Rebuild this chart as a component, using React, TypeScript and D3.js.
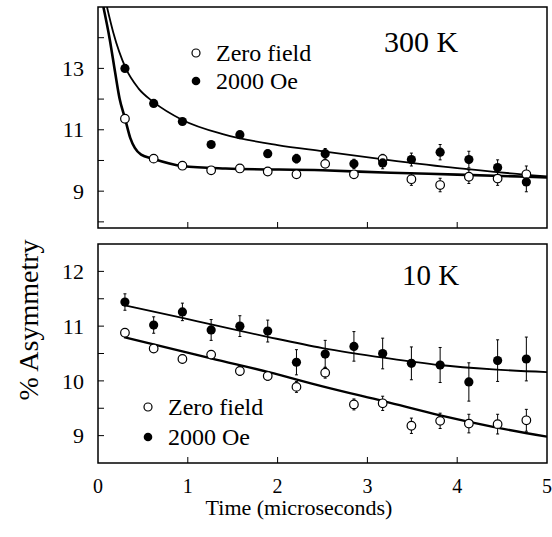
import React from "react";
import * as d3 from "d3";

const times = [0.30, 0.62, 0.94, 1.26, 1.58, 1.89, 2.21, 2.53, 2.85, 3.17, 3.49, 3.81, 4.13, 4.45, 4.77];

// 300 K panel
const hotField = [13.0, 11.86, 11.27, 10.52, 10.84, 10.22, 10.06, 10.22, 9.89, 9.92, 10.03, 10.27, 10.03, 9.77, 9.3];
const hotFieldErr = [0.06, 0.08, 0.08, 0.1, 0.1, 0.12, 0.14, 0.17, 0.15, 0.19, 0.21, 0.25, 0.27, 0.25, 0.32];
const hotZero = [11.36, 10.06, 9.83, 9.68, 9.74, 9.64, 9.55, 9.89, 9.55, 10.05, 9.39, 9.2, 9.47, 9.41, 9.55];
const hotZeroErr = [0.05, 0.06, 0.06, 0.07, 0.08, 0.08, 0.1, 0.12, 0.12, 0.15, 0.2, 0.22, 0.22, 0.22, 0.27];
const hotFieldFitT = [0.1, 0.17, 0.31, 0.45, 0.62, 0.94, 1.4, 2.0, 2.5, 3.2, 4.0, 5.0];
const hotFieldFitV = [15, 14.17, 13.0, 12.35, 11.9, 11.32, 10.85, 10.5, 10.3, 10.03, 9.75, 9.48];
const hotZeroFitT = [0.06, 0.13, 0.19, 0.24, 0.3, 0.36, 0.41, 0.48, 0.61, 0.94, 1.42, 2.5, 3.26, 4.0, 5.0];
const hotZeroFitV = [15, 13.96, 12.88, 12.02, 11.38, 10.73, 10.41, 10.19, 10.06, 9.82, 9.74, 9.68, 9.6, 9.54, 9.45];

// 10 K panel
const coldField = [11.44, 11.02, 11.26, 10.93, 11.0, 10.91, 10.34, 10.49, 10.63, 10.5, 10.32, 10.29, 9.98, 10.37, 10.4];
const coldFieldErr = [0.15, 0.15, 0.16, 0.19, 0.19, 0.2, 0.23, 0.25, 0.27, 0.28, 0.3, 0.32, 0.35, 0.38, 0.4];
const coldZero = [10.88, 10.59, 10.4, 10.48, 10.18, 10.09, 9.89, 10.15, 9.57, 9.59, 9.18, 9.27, 9.22, 9.21, 9.28];
const coldZeroErr = [0.05, 0.06, 0.07, 0.07, 0.08, 0.08, 0.1, 0.1, 0.1, 0.13, 0.14, 0.14, 0.17, 0.18, 0.2];
const coldFieldFitT = [0.29, 0.94, 1.26, 1.9, 2.5, 3.2, 3.8, 4.4, 5.0];
const coldFieldFitV = [11.38, 11.15, 11.03, 10.8, 10.6, 10.42, 10.29, 10.21, 10.16];
const coldZeroFitT = [0.29, 0.94, 1.26, 1.9, 2.5, 3.2, 3.81, 4.4, 5.0];
const coldZeroFitV = [10.8, 10.54, 10.41, 10.16, 9.9, 9.62, 9.37, 9.16, 8.98];

const xTicks = [0, 1, 2, 3, 4, 5];
const hotYTicks = [8, 9, 10, 11, 12, 13, 14];
const hotYLabels = [9, 11, 13];
const coldYTicks = [9, 9.5, 10, 10.5, 11, 11.5, 12];
const coldYLabels = [9, 10, 11, 12];

const legendLabels = ["Zero field", "2000 Oe"];
const FONT = "Liberation Serif, Tinos, DejaVu Serif, serif";
const serif = { fontFamily: FONT };

const X0 = 98, X1 = 547;
const x = d3.scaleLinear().domain([0, 5]).range([X0, X1]);

type PanelProps = {
  id: string;
  top: number;
  bottom: number;
  domain: [number, number];
  ticks: number[];
  labels: number[];
  field: number[];
  fieldErr: number[];
  zero: number[];
  zeroErr: number[];
  fFitT: number[];
  fFitV: number[];
  zFitT: number[];
  zFitV: number[];
  zWidth: number;
  fWidth: number;
};

function Panel(p: PanelProps) {
  const y = d3.scaleLinear().domain(p.domain).range([p.bottom, p.top]);
  const line = d3
    .line<[number, number]>()
    .x((d) => x(d[0]))
    .y((d) => y(d[1]))
    .curve(d3.curveMonotoneX);
  const fPath = line(p.fFitT.map((t, i) => [t, p.fFitV[i]] as [number, number])) || "";
  const zPath = line(p.zFitT.map((t, i) => [t, p.zFitV[i]] as [number, number])) || "";
  const errBars = (vals: number[], errs: number[], key: string) =>
    vals.map((v, i) => {
      const cx = x(times[i]);
      const y1 = y(v - errs[i]);
      const y2 = y(v + errs[i]);
      return (
        <g key={key + i} stroke="#000" strokeWidth={1}>
          <line x1={cx} x2={cx} y1={y1} y2={y2} />
          <line x1={cx - 1.5} x2={cx + 1.5} y1={y1} y2={y1} />
          <line x1={cx - 1.5} x2={cx + 1.5} y1={y2} y2={y2} />
        </g>
      );
    });
  return (
    <g>
      <defs>
        <clipPath id={p.id}>
          <rect x={X0} y={p.top} width={X1 - X0} height={p.bottom - p.top} />
        </clipPath>
      </defs>
      <g clipPath={`url(#${p.id})`}>
        <path d={zPath} fill="none" stroke="#000" strokeWidth={p.zWidth} />
        <path d={fPath} fill="none" stroke="#000" strokeWidth={p.fWidth} />
      </g>
      {errBars(p.field, p.fieldErr, "fe")}
      {errBars(p.zero, p.zeroErr, "ze")}
      {p.zero.map((v, i) => (
        <circle key={"z" + i} cx={x(times[i])} cy={y(v)} r={4.3} fill="#fff" stroke="#000" strokeWidth={1.2} />
      ))}
      {p.field.map((v, i) => (
        <circle key={"f" + i} cx={x(times[i])} cy={y(v)} r={4.6} fill="#000" />
      ))}
      <rect x={X0} y={p.top} width={X1 - X0} height={p.bottom - p.top} fill="none" stroke="#000" strokeWidth={1.5} />
      {p.ticks.map((t) => (
        <line key={"yt" + t} x1={X0} x2={X0 + 6} y1={y(t)} y2={y(t)} stroke="#000" strokeWidth={1} />
      ))}
      {xTicks.slice(1, 5).map((t) => (
        <line key={"xt" + t} x1={x(t)} x2={x(t)} y1={p.bottom} y2={p.bottom - 6} stroke="#000" strokeWidth={1} />
      ))}
      {p.labels.map((t) => (
        <text key={"yl" + t} x={84} y={y(t)} dy="0.35em" textAnchor="end" fontSize={22} style={serif}>
          {t}
        </text>
      ))}
    </g>
  );
}

function Legend({ cx, y1, y2 }: { cx: number; y1: number; y2: number }) {
  return (
    <g style={serif} fontSize={24}>
      <circle cx={cx} cy={y1} r={4} fill="#fff" stroke="#000" strokeWidth={1.2} />
      <text x={cx + 20} y={y1 + 8}>{legendLabels[0]}</text>
      <circle cx={cx} cy={y2} r={4.3} fill="#000" />
      <text x={cx + 20} y={y2 + 8}>{legendLabels[1]}</text>
    </g>
  );
}

export default function App() {
  return (
    <svg width={552} height={537} style={{ position: "absolute", left: 0, top: 0, background: "#fff" }}>
      <rect width={552} height={537} fill="#fff" />
      <Panel
        id="clipTop"
        top={7}
        bottom={228}
        domain={[7.8, 15]}
        ticks={hotYTicks}
        labels={hotYLabels}
        field={hotField}
        fieldErr={hotFieldErr}
        zero={hotZero}
        zeroErr={hotZeroErr}
        fFitT={hotFieldFitT}
        fFitV={hotFieldFitV}
        zFitT={hotZeroFitT}
        zFitV={hotZeroFitV}
        zWidth={2.6}
        fWidth={1.8}
      />
      <Panel
        id="clipBottom"
        top={244}
        bottom={463}
        domain={[8.5, 12.5]}
        ticks={coldYTicks}
        labels={coldYLabels}
        field={coldField}
        fieldErr={coldFieldErr}
        zero={coldZero}
        zeroErr={coldZeroErr}
        fFitT={coldFieldFitT}
        fFitV={coldFieldFitV}
        zFitT={coldZeroFitT}
        zFitV={coldZeroFitV}
        zWidth={2.3}
        fWidth={1.8}
      />
      <Legend cx={196} y1={53} y2={81} />
      <Legend cx={148} y1={407} y2={437} />
      <text x={384} y={52} style={serif} fontSize={30}>300 K</text>
      <text x={402} y={285} style={serif} fontSize={29}>10 K</text>
      {xTicks.map((t) => (
        <text key={"xl" + t} x={x(t)} y={493} textAnchor="middle" fontSize={20} style={serif}>
          {t}
        </text>
      ))}
      <text x={299} y={515} textAnchor="middle" fontSize={22} style={serif}>
        Time (microseconds)
      </text>
      <text transform="translate(38,320) rotate(-90)" textAnchor="middle" fontSize={28} style={serif}>
        % Asymmetry
      </text>
    </svg>
  );
}
